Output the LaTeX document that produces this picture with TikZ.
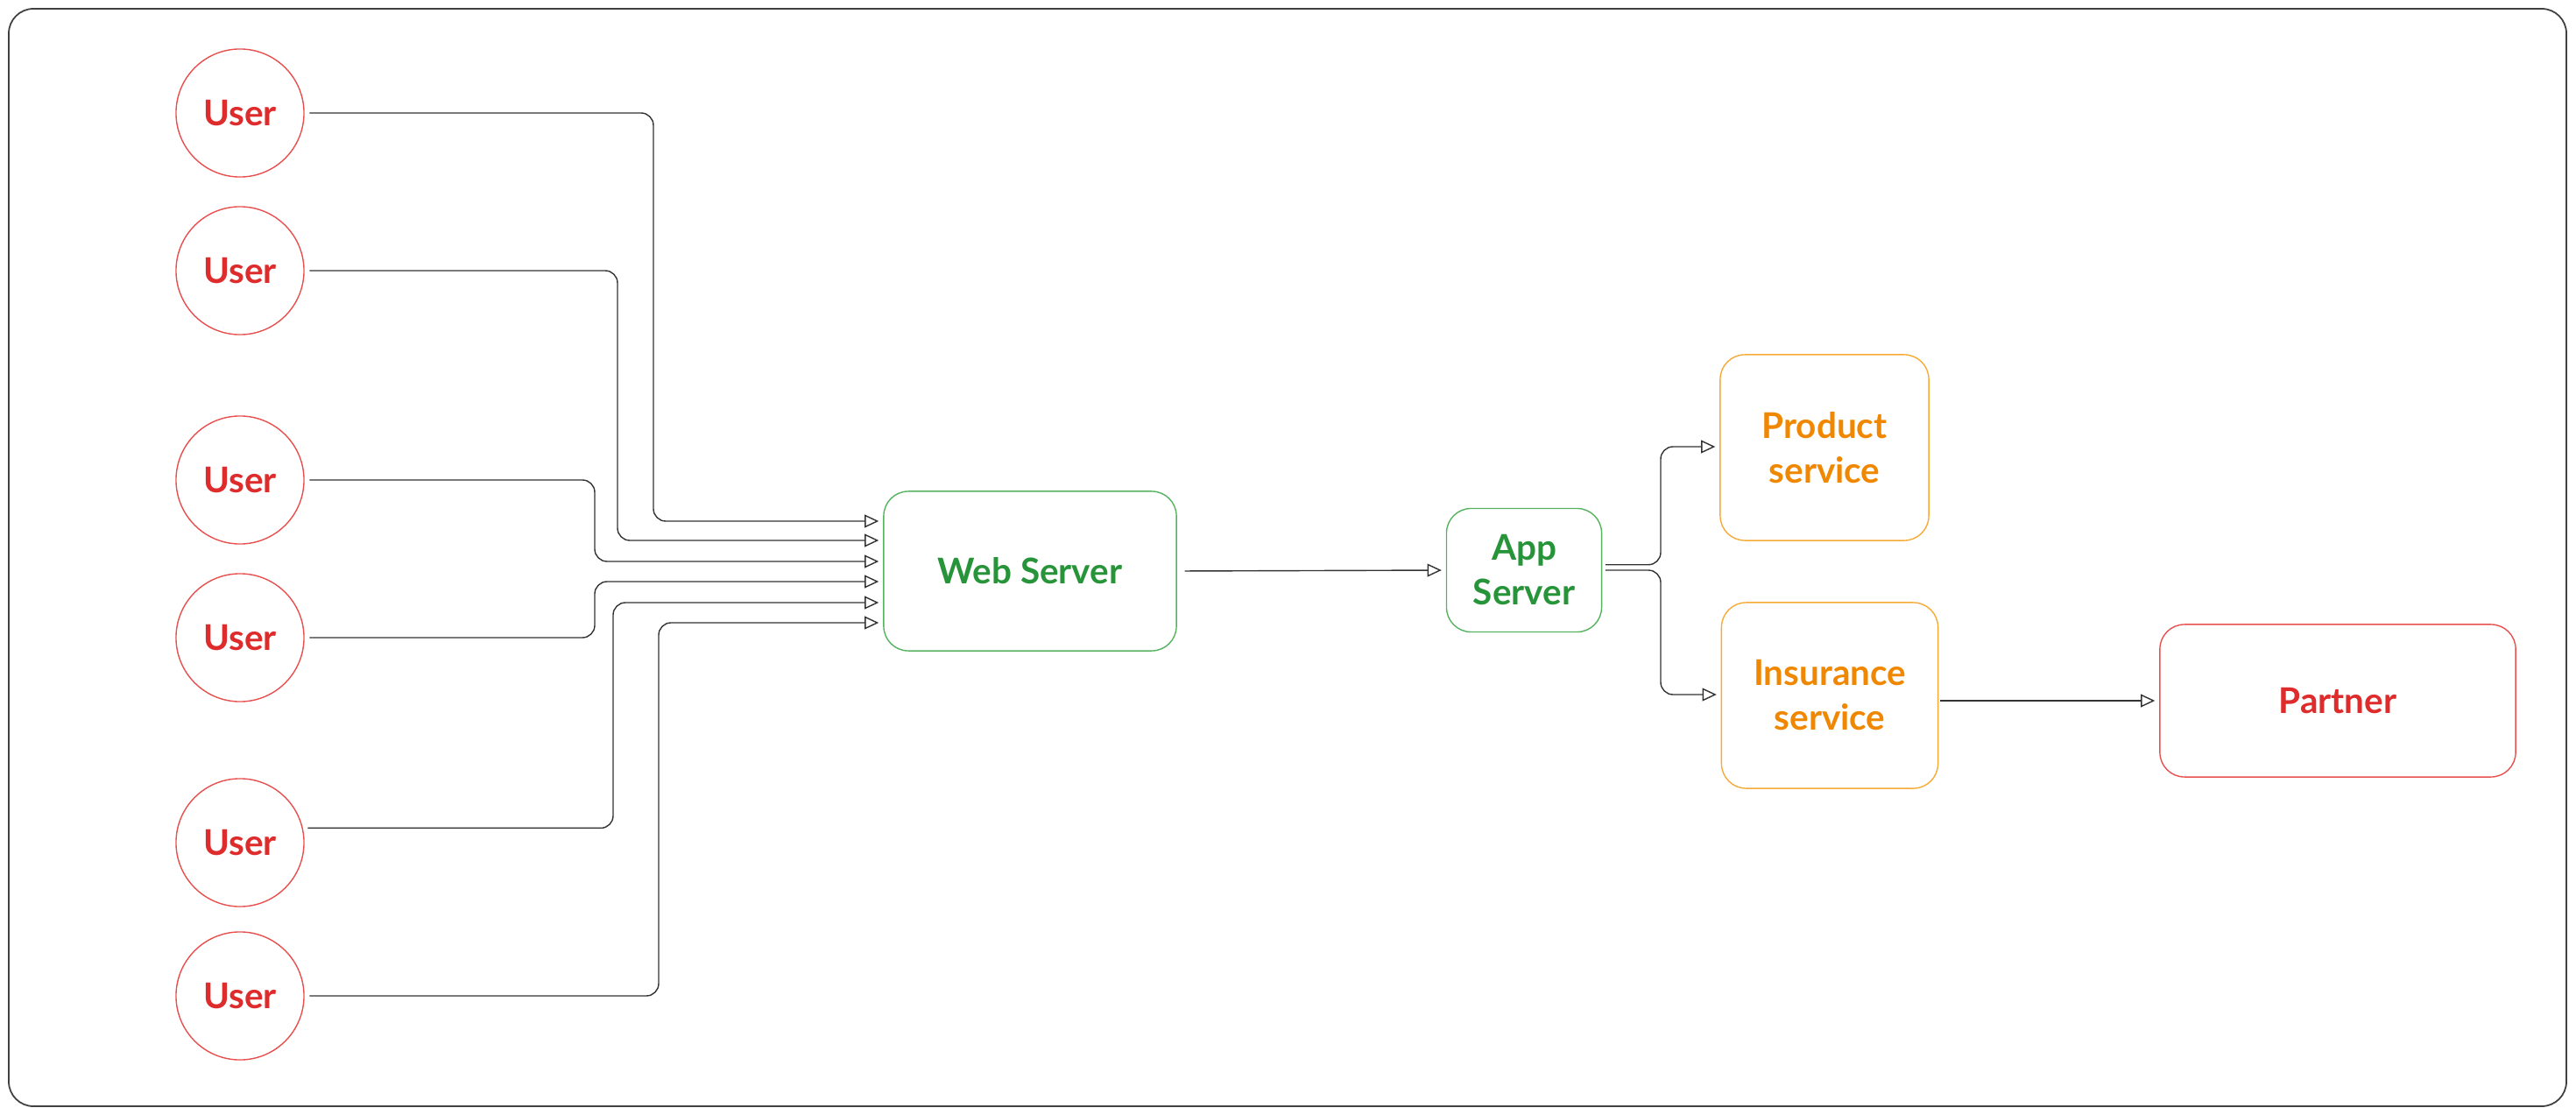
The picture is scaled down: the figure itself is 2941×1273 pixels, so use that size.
\documentclass[tikz,border=0pt]{standalone}
\usepackage{fontspec}
\setmainfont{Lato}
\usetikzlibrary{arrows.meta}
\definecolor{userred}{RGB}{222,44,44}
\definecolor{userline}{RGB}{232,80,80}
\definecolor{srvgreen}{RGB}{40,148,58}
\definecolor{srvline}{RGB}{85,178,95}
\definecolor{svcorange}{RGB}{240,135,0}
\definecolor{svcline}{RGB}{246,170,55}
\tikzset{
  user node/.style={circle, draw=userline, line width=0.4pt, text=userred,
    minimum size=1.46cm, inner sep=0pt, font=\fontsize{11.5}{14.5}\selectfont\bfseries},
  box node/.style={rectangle, rounded corners=8pt, line width=0.4pt, inner sep=0pt,
    align=center, font=\fontsize{11.5}{14.5}\selectfont\bfseries},
  server box/.style={box node, draw=srvline, text=srvgreen},
  service box/.style={box node, draw=svcline, text=svcorange},
  partner box/.style={box node, draw=userline, text=userred},
  flow/.style={draw=black!80, line width=0.4pt, rounded corners=4pt,
    -{Triangle[open, length=4.6pt, width=4.2pt]}, shorten <=1.6pt, shorten >=1.4pt},
  frame/.style={draw=black!75, line width=0.5pt, rounded corners=8pt}
}
\begin{document}
\begin{tikzpicture}[x=0.01cm, y=-0.01cm]
  \useasboundingbox (0,0) rectangle (2941,1273);
  \draw[frame] (10,10) rectangle (2930,1263);

  % users
  \node[user node] (u1) at (274,129) {User};
  \node[user node] (u2) at (274,309) {User};
  \node[user node] (u3) at (274,548) {User};
  \node[user node] (u4) at (274,728) {User};
  \node[user node] (u5) at (274,962) {User};
  \node[user node] (u6) at (274,1137) {User};

  % servers and services
  \node[server box, minimum width=3.34cm, minimum height=1.82cm] (web) at (1176,652) {Web Server};
  \node[server box, minimum width=1.77cm, minimum height=1.41cm] (app) at (1740,651) {App\\Server};
  \node[service box, minimum width=2.38cm, minimum height=2.12cm] (prod) at (2083,511) {Product\\ service};
  \node[service box, minimum width=2.47cm, minimum height=2.12cm] (ins) at (2089,794) {Insurance\\ service};
  \node[partner box, minimum width=4.06cm, minimum height=1.74cm] (partner) at (2669,800) {Partner};

  \draw[flow] (u1.east) -| (746,595) -- (web.west |- 0,595);
  \draw[flow] (u2.east) -| (705,617) -- (web.west |- 0,617);
  \draw[flow] (u3.east) -| (679,641) -- (web.west |- 0,641);
  \draw[flow] (u4.east) -| (679,664) -- (web.west |- 0,664);
  \draw[flow] (u5.13) -| (700,688) -- (web.west |- 0,688);
  \draw[flow] (u6.east) -| (752,711) -- (web.west |- 0,711);

  \draw[flow, shorten <=2.5pt] (web.east) -- (app.west);
  \draw[flow, shorten <=1pt] (app.4) -| (1896,510) -- (prod.west |- 0,510);
  \draw[flow, shorten <=1pt] (app.east) -| (1896,793) -- (ins.west |- 0,793);
  \draw[flow, shorten <=0.5pt] (ins.east |- partner.west) -- (partner.west);
\end{tikzpicture}
\end{document}
